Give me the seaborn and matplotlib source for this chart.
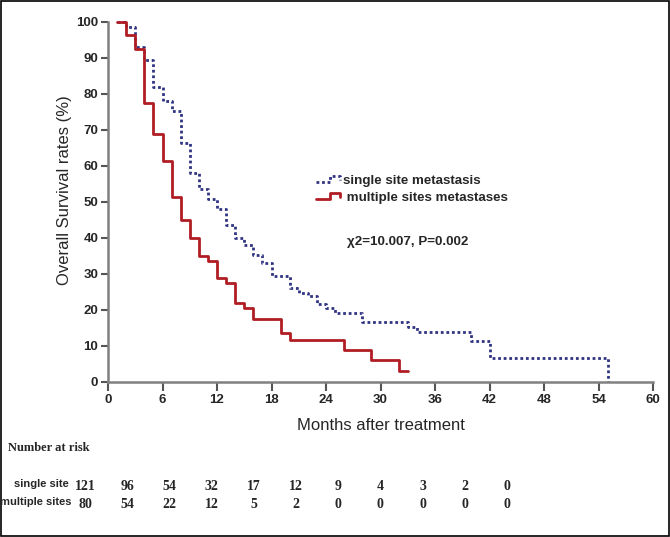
import numpy as np
import pandas as pd
import matplotlib
matplotlib.use("Agg")
import matplotlib.pyplot as plt
import seaborn as sns
from matplotlib.lines import Line2D
from matplotlib.legend_handler import HandlerBase
from matplotlib.patches import Rectangle

# ---------------- data ----------------
single_months = [1, 2, 3, 4, 5, 6, 7, 8, 9, 10, 11, 12, 13, 14, 15, 16, 17, 18,
                 20, 21, 22, 23, 24, 25, 28, 33, 34, 40, 42, 55]
single_surv = [100, 98.5, 93, 89.5, 82, 78, 75.3, 66.5, 58, 53.7, 50.8, 48, 43.5, 40,
               38, 35.2, 33, 29.5, 26, 24.8, 24, 21.6, 20.5, 19.2, 16.7, 15.3, 13.8,
               11.5, 6.8, 0]
multi_months = [1, 2, 3, 4, 5, 6, 7, 8, 9, 10, 11, 12, 13, 14, 15, 16, 19, 20, 26, 29, 32, 33]
multi_surv = [100, 96.5, 92.5, 77.5, 69, 61.5, 51.5, 45, 40, 35, 33.5, 29, 27.5, 22,
              20.5, 17.5, 13.5, 11.7, 9, 6, 3, 3]

group_names = ["single site metastasis", "multiple sites metastases"]
x_ticks = [0, 6, 12, 18, 24, 30, 36, 42, 48, 54, 60]
y_ticks = [0, 10, 20, 30, 40, 50, 60, 70, 80, 90, 100]

risk_rows = ["single site", "multiple sites"]
risk_single = [121, 96, 54, 32, 17, 12, 9, 4, 3, 2, 0]
risk_multi = [80, 54, 22, 12, 5, 2, 0, 0, 0, 0, 0]

stat_text = "\u03c72=10.007, P=0.002"

# ---------------- frame ----------------
df = pd.concat([
    pd.DataFrame({"months": single_months, "survival": single_surv, "group": group_names[0]}),
    pd.DataFrame({"months": multi_months, "survival": multi_surv, "group": group_names[1]}),
], ignore_index=True)

sns.set_style("white")
plt.rcParams["font.family"] = ["Liberation Sans", "DejaVu Sans"]

W, H = 670, 537
fig = plt.figure(figsize=(W / 100, H / 100), dpi=100)

def px_x(x):
    return x / W

def px_y(y):
    return 1 - y / H

ax_left, ax_right, ax_top, ax_bot = 108, 653, 22, 382
ax = fig.add_axes([px_x(ax_left), px_y(ax_bot), (ax_right - ax_left) / W, (ax_bot - ax_top) / H])

blue = "#2f3380"
red = "#b01e24"
palette = {group_names[0]: blue, group_names[1]: red}
dashes = {group_names[0]: (1.0, 1.0), group_names[1]: ""}

sns.lineplot(data=df, x="months", y="survival", hue="group", style="group",
             hue_order=group_names, style_order=group_names,
             palette=palette, dashes=dashes, drawstyle="steps-post",
             estimator=None, sort=False, linewidth=2, legend=False, ax=ax)
for ln in ax.lines:
    ln.set_clip_on(False)

ax.set_xlim(0, 60)
ax.set_ylim(0, 100)
ax.set_xticks(x_ticks)
ax.set_yticks(y_ticks)
ax.set_xticklabels([str(v) for v in x_ticks], fontsize=9.5, fontweight="bold")
ax.set_yticklabels([str(v) for v in y_ticks], fontsize=9.5, fontweight="bold")
for s in ["top", "right"]:
    ax.spines[s].set_visible(False)
for s in ["left", "bottom"]:
    ax.spines[s].set_color("#808080")
    ax.spines[s].set_linewidth(1.8)
ax.tick_params(axis="y", direction="out", length=5, width=1.5, color="#555555", pad=2, left=True)
ax.tick_params(axis="x", direction="out", length=6.5, width=1.5, color="#555555", pad=2, bottom=True)

ax.set_xlabel("Months after treatment", fontsize=12)
ax.set_ylabel("Overall Survival rates (%)", fontsize=12)
ax.xaxis.set_label_coords((381 - ax_left) / (ax_right - ax_left), -(425 - ax_bot) / (ax_bot - ax_top))
ax.yaxis.set_label_coords((65 - ax_left) / (ax_right - ax_left), (ax_bot - 190) / (ax_bot - ax_top))
ax.xaxis.label.set_va("center")
ax.yaxis.label.set_va("center")


class StepHandler(HandlerBase):
    def create_artists(self, legend, orig_handle, xdescent, ydescent, width, height, fontsize, trans):
        x0 = -xdescent
        y0 = -ydescent
        xs = [x0, x0 + 0.6 * width, x0 + 0.6 * width, x0 + width, x0 + width]
        ys = [y0 + 0.2 * height, y0 + 0.2 * height, y0 + 0.85 * height, y0 + 0.85 * height, y0 + 0.45 * height]
        line = Line2D(xs, ys)
        self.update_prop(line, orig_handle, legend)
        line.set_transform(trans)
        return [line]


handles = [Line2D([], [], color=blue, linewidth=2, dashes=(1.0, 1.0)),
           Line2D([], [], color=red, linewidth=2)]
leg = ax.legend(handles, [group_names[0], " " + group_names[1]], handler_map={Line2D: StepHandler()},
                loc="upper left", bbox_to_anchor=(px_x(316), px_y(175)),
                bbox_transform=fig.transFigure, frameon=False,
                prop={"size": 9.6, "weight": "bold"}, handlelength=1.8,
                handletextpad=0.25, labelspacing=0.35, borderpad=0, borderaxespad=0)

ax.text((408 - ax_left) / (ax_right - ax_left), (ax_bot - 242) / (ax_bot - ax_top), stat_text,
        transform=ax.transAxes, ha="center", va="center", fontsize=9.6, fontweight="bold")

# ---------------- number at risk table ----------------
serif = ["Liberation Serif", "DejaVu Serif"]
fig.text(px_x(8), px_y(448), "Number at risk", ha="left", va="center",
         fontsize=9, fontweight="bold", family=serif)
row_y = [486, 504]
row_label_right = [69, 72]
for lab, yy, xr in zip(risk_rows, row_y, row_label_right):
    fig.text(px_x(xr), px_y(yy - 2), lab, ha="right", va="center", fontsize=8, fontweight="bold")
col_x = [85 + 42.2 * i for i in range(len(risk_single))]
for vals, yy in zip([risk_single, risk_multi], row_y):
    for xx, v in zip(col_x, vals):
        fig.text(px_x(xx), px_y(yy), str(v), ha="center", va="center",
                 fontsize=10, fontweight="bold", family=serif)

# outer border
fig.add_artist(Rectangle((0.001, 0.001), 0.998, 0.997, transform=fig.transFigure,
                         fill=False, edgecolor="black", linewidth=1.2))

fig.savefig("out.png", dpi=100)
